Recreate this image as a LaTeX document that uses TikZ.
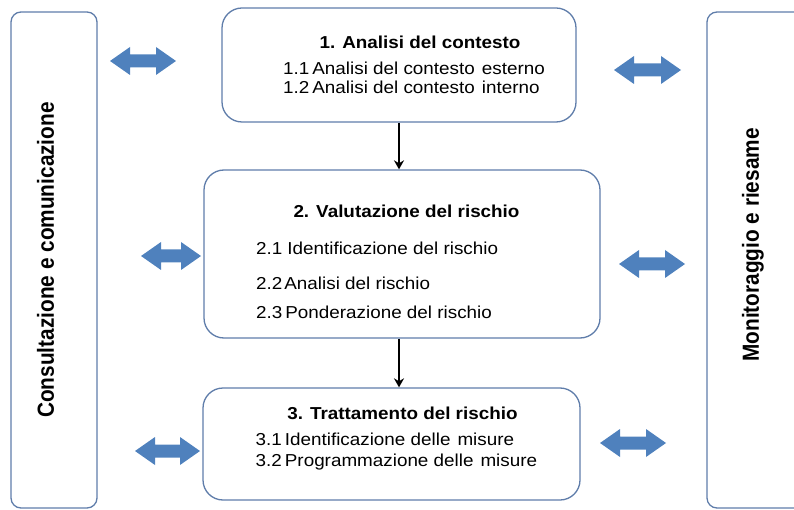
\documentclass[tikz,border=0pt]{standalone}
\usepackage{fontspec}
\setmainfont{Liberation Sans}
\newfontfamily\boxfont[FakeStretch=1.09]{Liberation Sans}
\usetikzlibrary{arrows.meta}
\definecolor{boxline}{RGB}{95,125,170}
\definecolor{arrowblue}{RGB}{79,129,189}
\tikzset{
  stage/.style={draw=boxline, line width=1.3pt, rounded corners=20pt, inner sep=0pt},
  side/.style={draw=boxline, line width=1.3pt, rounded corners=10pt, inner sep=0pt},
  title/.style={anchor=base, inner sep=0pt, font=\boxfont\fontsize{17.3}{20}\selectfont\bfseries},
  item/.style={anchor=base west, inner sep=0pt, font=\boxfont\fontsize{17.3}{20}\selectfont},
  sidetext/.style={rotate=90, inner sep=0pt, font=\fontsize{20.8}{24}\selectfont\bfseries},
  flow/.style={line width=2pt, -{Stealth[length=9pt,width=10pt]}},
  pics/dblarrow/.style={code={\fill[arrowblue] (-#1,0) -- (-#1+20,-14) -- (-#1+20,-6.5) -- (#1-20,-6.5) -- (#1-20,-14) -- (#1,0) -- (#1-20,14) -- (#1-20,6.5) -- (-#1+20,6.5) -- (-#1+20,14) -- cycle;}}
}
\begin{document}
\begin{tikzpicture}[x=1pt,y=-1pt]
\useasboundingbox (0,0) rectangle (794,510);
\clip (0,0) rectangle (794,510);
% side panels
\node[side, minimum width=86pt, minimum height=496pt] (lbox) at (54,260) {};
\node[side, minimum width=130pt, minimum height=496pt] (rbox) at (772,260) {};
\node[sidetext] (ltext) at (45.5,260) {\scalebox{1}[1.12]{Consultazione e comunicazione}};
\node[sidetext] (rtext) at (753,245) {\scalebox{1}[1.12]{Monitoraggio e riesame}};
% stage boxes
\node[stage, minimum width=354pt, minimum height=114pt] (b1) at (399,65) {};
\node[stage, minimum width=396pt, minimum height=168pt] (b2) at (402,254) {};
\node[stage, minimum width=377pt, minimum height=112pt] (b3) at (391.5,444) {};
% texts
\node[title] (t1) at (420,48.5) {1. Analisi del contesto};
\node[item] (t11) at (283,75) {1.1\hspace{3pt}Analisi del contesto\hspace{7pt}esterno};
\node[item] (t12) at (283,94) {1.2\hspace{3pt}Analisi del contesto\hspace{7pt}interno};
\node[title] (t2) at (406.5,218) {2. Valutazione del rischio};
\node[item] (t21) at (256,254.5) {2.1\hspace{5pt}Identificazione del rischio};
\node[item] (t22) at (256,290) {2.2\hspace{2pt}Analisi del rischio};
\node[item] (t23) at (256,318) {2.3\hspace{3pt}Ponderazione del rischio};
\node[title] (t3) at (402.5,419) {3. Trattamento del rischio};
\node[item] (t31) at (255.5,445.5) {3.1\hspace{3pt}Identificazione delle\hspace{7pt}misure};
\node[item] (t32) at (255.5,466.5) {3.2\hspace{3pt}Programmazione delle\hspace{7pt}misure};
% flow arrows
\draw[flow] (b1.south) -- (b1.south |- b2.north);
\draw[flow] (b2.south -| b1.south) -- (b3.north -| b1.south);
% double arrows
\pic (la1) at (143,61) {dblarrow=33};
\pic (ra1) at (647.5,70) {dblarrow=33.5};
\pic (la2) at (171,256) {dblarrow=30};
\pic (ra2) at (652,264) {dblarrow=33};
\pic (la3) at (167.5,451) {dblarrow=32.5};
\pic (ra3) at (633,443) {dblarrow=33};
\end{tikzpicture}
\end{document}
